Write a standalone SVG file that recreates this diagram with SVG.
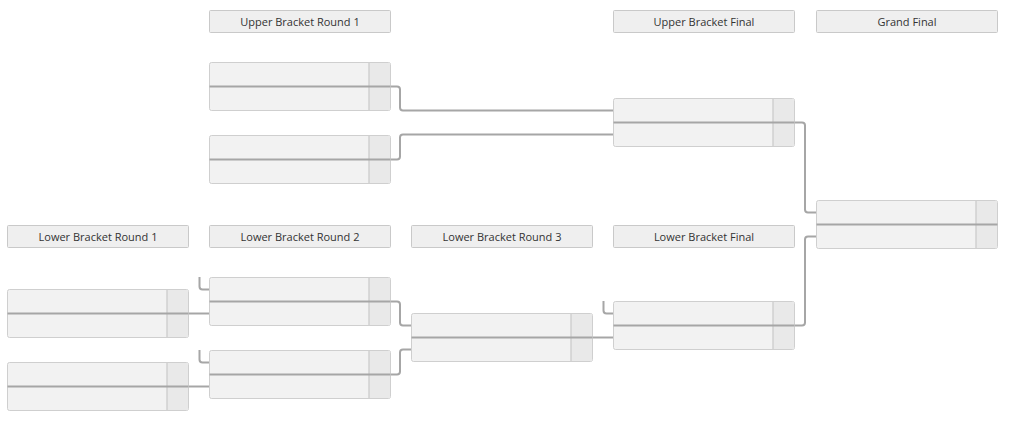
<svg xmlns="http://www.w3.org/2000/svg" width="1024" height="429" viewBox="0 0 1024 429">
<style>
.hdr{fill:#efefef;stroke:#c9c9c9;stroke-width:1}
.ht{font-family:"Open Sans",sans-serif;font-size:11px;fill:#333;text-anchor:middle}
.row{fill:#f2f2f2;stroke:#cfcfcf;stroke-width:1}
.sc{fill:#e9e9e9;stroke:none}
.scl{stroke:#c9c9c9;stroke-width:1.2}
.div{stroke:#a6a6a6;stroke-width:2}
.con{fill:none;stroke:#a6a6a6;stroke-width:2}
</style>
<defs>
<g id="match">
<rect class="row" x="0.5" y="0.5" width="181" height="48" rx="2"/>
<rect class="sc" x="160" y="1" width="21" height="47"/>
<line class="scl" x1="160" y1="1" x2="160" y2="48"/>
<line class="div" x1="0.5" y1="24.5" x2="181.5" y2="24.5"/>
</g>
</defs>
<g id="headers">
<g id="h-ub1"><rect class="hdr" x="209.5" y="10.5" width="181" height="22" rx="1"/><text class="ht" x="300" y="25.5">Upper Bracket Round 1</text></g>
<g id="h-ubf"><rect class="hdr" x="613.5" y="10.5" width="181" height="22" rx="1"/><text class="ht" x="704" y="25.5">Upper Bracket Final</text></g>
<g id="h-gf"><rect class="hdr" x="816.5" y="10.5" width="181" height="22" rx="1"/><text class="ht" x="907" y="25.5">Grand Final</text></g>
<g id="h-lb1"><rect class="hdr" x="7.5" y="225.5" width="181" height="22" rx="1"/><text class="ht" x="98" y="240.5">Lower Bracket Round 1</text></g>
<g id="h-lb2"><rect class="hdr" x="209.5" y="225.5" width="181" height="22" rx="1"/><text class="ht" x="300" y="240.5">Lower Bracket Round 2</text></g>
<g id="h-lb3"><rect class="hdr" x="411.5" y="225.5" width="181" height="22" rx="1"/><text class="ht" x="502" y="240.5">Lower Bracket Round 3</text></g>
<g id="h-lbf"><rect class="hdr" x="613.5" y="225.5" width="181" height="22" rx="1"/><text class="ht" x="704" y="240.5">Lower Bracket Final</text></g>
</g>
<g id="connectors">
<path class="con" d="M390 86.5 H397 Q400 86.5 400 89.5 V107.5 Q400 110.5 403 110.5 H613"/>
<path class="con" d="M390 159.5 H397 Q400 159.5 400 156.5 V137.5 Q400 134.5 403 134.5 H613"/>
<path class="con" d="M794 122.5 H802 Q805 122.5 805 125.5 V209.5 Q805 212.5 808 212.5 H816"/>
<path class="con" d="M794 325.5 H802 Q805 325.5 805 322.5 V239.5 Q805 236.5 808 236.5 H816"/>
<path class="con" d="M188 313.5 H209"/>
<path class="con" d="M188 386.5 H209"/>
<path class="con" d="M199.5 277 V286.5 Q199.5 289.5 202.5 289.5 H209"/>
<path class="con" d="M199.5 350 V359.5 Q199.5 362.5 202.5 362.5 H209"/>
<path class="con" d="M390 301.5 H397 Q400 301.5 400 304.5 V322.5 Q400 325.5 403 325.5 H411"/>
<path class="con" d="M390 374.5 H397 Q400 374.5 400 371.5 V352.5 Q400 349.5 403 349.5 H411"/>
<path class="con" d="M592 337.5 H613"/>
<path class="con" d="M603.5 301 V310.5 Q603.5 313.5 606.5 313.5 H613"/>
</g>
<g id="ub1-m1"><use href="#match" x="209" y="62"/></g>
<g id="ub1-m2"><use href="#match" x="209" y="135"/></g>
<g id="ubf"><use href="#match" x="613" y="98"/></g>
<g id="gf"><use href="#match" x="816" y="200"/></g>
<g id="lb1-m1"><use href="#match" x="7" y="289"/></g>
<g id="lb1-m2"><use href="#match" x="7" y="362"/></g>
<g id="lb2-m1"><use href="#match" x="209" y="277"/></g>
<g id="lb2-m2"><use href="#match" x="209" y="350"/></g>
<g id="lb3"><use href="#match" x="411" y="313"/></g>
<g id="lbf"><use href="#match" x="613" y="301"/></g>
</svg>
